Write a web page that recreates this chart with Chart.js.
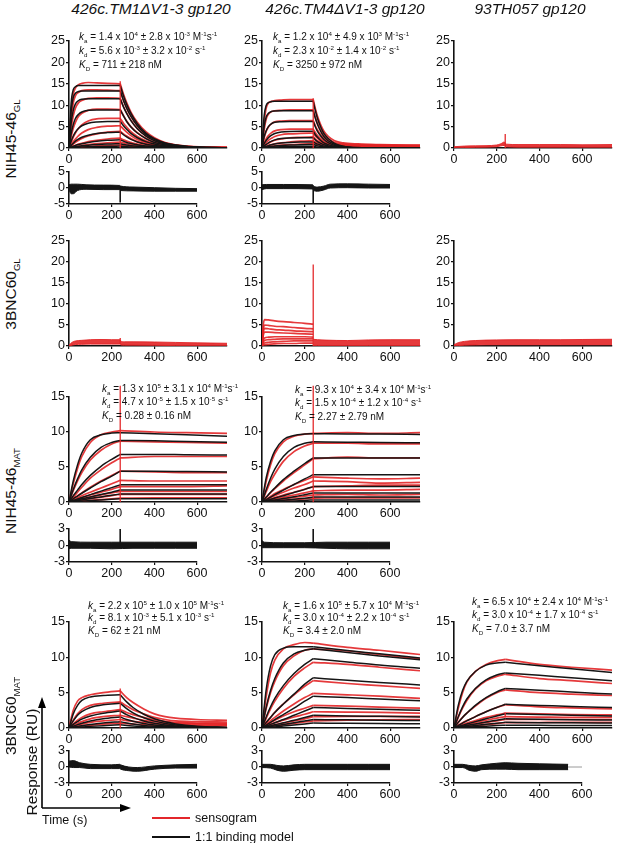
<!DOCTYPE html>
<html>
<head>
<meta charset="utf-8">
<script src="https://cdn.jsdelivr.net/npm/chart.js@4.4.1/dist/chart.umd.min.js"></script>
<style>
  body { margin: 0; background: #fff; }
  #fig { position: relative; width: 617px; height: 843px; overflow: hidden; font-family: "Liberation Sans", Arial, sans-serif; color: #111; }
  #fig canvas { position: absolute; }
  .t { position: absolute; white-space: nowrap; line-height: 1; }
  .title { font-style: italic; font-size: 15.5px; transform: translate(-50%, -50%); }
  .kin { font-size: 10px; transform: translateY(-50%); }
  .kin sup, .kin sub, .rot sub { font-size: 62%; line-height: 0; }
  .rot { font-size: 15.5px; transform: translate(-50%, -50%) rotate(-90deg); }
  .leg { font-size: 12.5px; transform: translateY(-50%); }
</style>
</head>
<body>
<div id="fig">
  <svg width="617" height="843" style="position:absolute;left:0;top:0">
    <line x1="42" y1="808" x2="42" y2="706" stroke="#000" stroke-width="1.6"/>
    <polygon points="42,697 38,708 46,708" fill="#000"/>
    <line x1="42" y1="808" x2="121" y2="808" stroke="#000" stroke-width="1.6"/>
    <polygon points="131,808 120,804 120,812" fill="#000"/>
    <line x1="152" y1="818" x2="190" y2="818" stroke="#e3262b" stroke-width="2.2"/>
    <line x1="152" y1="837" x2="190" y2="837" stroke="#111" stroke-width="2.2"/>
  </svg>
</div>
<script>
// * Settings
const FONT = "'Liberation Sans', Arial, sans-serif";
const RED = "rgba(226, 35, 38, 0.9)";
const BLACK = "#151515";
const PX_PER_S = 0.214;
const PAD_L = 26, PAD_T = 14, PAD_R = 16, PAD_B = 18;
const fig = document.getElementById("fig");

// * Tick labels
const timeTicks = [0, 200, 400, 600];
const glTicks = [0, 5, 10, 15, 20, 25];
const matTicks = [0, 5, 10, 15];
const resGlTicks = [-5, 0, 5];
const resMatTicks = [-3, 0, 3];

// * NIH45-46 GL x 426c.TM1dV1-3
const glTm1T = [0, 10, 20, 30, 45, 60, 90, 130, 180, 240, 255, 270, 290, 320, 360, 400, 450, 500, 560, 740];
const glTm1Fit = [
  [0, 10.5, 13.6, 14.3, 14.6, 14.6, 14.6, 14.6, 14.6, 14.6, 12.2, 10.2, 8.1, 5.7, 3.5, 2.2, 1.2, 0.68, 0.33, 0.05],
  [0, 8.5, 11.8, 12.8, 13.2, 13.3, 13.3, 13.3, 13.3, 13.3, 11.1, 9.3, 7.4, 5.2, 3.2, 2.0, 1.1, 0.62, 0.3, 0.04],
  [0, 5.8, 8.8, 10.3, 11.1, 11.4, 11.5, 11.5, 11.5, 11.5, 9.6, 8.1, 6.4, 4.5, 2.8, 1.7, 0.97, 0.54, 0.26, 0.03],
  [0, 3.3, 5.5, 6.9, 7.9, 8.4, 8.8, 8.9, 8.9, 8.9, 7.5, 6.2, 4.9, 3.5, 2.2, 1.3, 0.75, 0.41, 0.2, 0.03],
  [0, 1.6, 2.8, 3.7, 4.6, 5.2, 5.8, 6.1, 6.2, 6.2, 5.2, 4.4, 3.4, 2.4, 1.5, 0.94, 0.52, 0.29, 0.14, 0.02],
  [0, 0.6, 1.1, 1.6, 2.1, 2.5, 3.0, 3.4, 3.6, 3.7, 3.1, 2.6, 2.0, 1.4, 0.9, 0.56, 0.31, 0.17, 0.09, 0.01],
  [0, 0.2, 0.4, 0.6, 0.8, 1.0, 1.3, 1.6, 1.8, 1.9, 1.6, 1.3, 1.05, 0.74, 0.46, 0.29, 0.16, 0.09, 0.04, 0],
  [0, 0.1, 0.2, 0.3, 0.4, 0.5, 0.65, 0.8, 0.92, 1.0, 0.84, 0.7, 0.55, 0.39, 0.24, 0.15, 0.08, 0.05, 0.02, 0],
  [0, 0.05, 0.1, 0.14, 0.2, 0.24, 0.3, 0.36, 0.41, 0.45, 0.38, 0.32, 0.25, 0.18, 0.11, 0.07, 0.04, 0.02, 0.01, 0]
];
const glTm1Sens = [
  [0, 8.0, 12.5, 14.0, 14.8, 15.1, 15.3, 15.2, 15.1, 15.0, 12.6, 10.6, 8.4, 6.0, 3.8, 2.4, 1.3, 0.75, 0.4, 0.15],
  [0, 6.5, 10.5, 12.2, 13.0, 13.4, 13.6, 13.6, 13.5, 13.4, 11.2, 9.4, 7.5, 5.3, 3.3, 2.1, 1.15, 0.65, 0.35, 0.12],
  [0, 4.5, 7.5, 9.3, 10.6, 11.1, 11.6, 11.7, 11.7, 11.6, 9.7, 8.2, 6.5, 4.6, 2.9, 1.8, 1.0, 0.57, 0.3, 0.1],
  [0, 2.6, 4.6, 6.0, 7.4, 8.1, 8.8, 9.1, 9.1, 9.0, 7.6, 6.3, 5.0, 3.6, 2.3, 1.4, 0.8, 0.45, 0.25, 0.1],
  [0, 1.4, 2.5, 3.5, 4.6, 5.4, 6.3, 6.8, 6.9, 6.9, 5.8, 4.9, 3.8, 2.7, 1.7, 1.05, 0.6, 0.35, 0.2, 0.1],
  [0, 0.8, 1.5, 2.1, 2.9, 3.5, 4.3, 4.8, 5.1, 5.2, 4.4, 3.7, 2.9, 2.0, 1.3, 0.8, 0.45, 0.27, 0.15, 0.08],
  [0, 0.5, 0.9, 1.3, 1.8, 2.2, 2.8, 3.3, 3.7, 3.9, 3.3, 2.8, 2.2, 1.5, 0.95, 0.6, 0.35, 0.2, 0.12, 0.05],
  [0, 0.2, 0.4, 0.6, 0.9, 1.1, 1.5, 1.8, 2.1, 2.3, 1.9, 1.6, 1.3, 0.9, 0.56, 0.36, 0.2, 0.12, 0.08, 0.05],
  [0, 0.1, 0.2, 0.3, 0.45, 0.6, 0.8, 1.0, 1.2, 1.4, 1.2, 1.0, 0.8, 0.55, 0.35, 0.22, 0.13, 0.08, 0.05, 0.03],
  [0, 0.05, 0.1, 0.15, 0.2, 0.28, 0.38, 0.5, 0.6, 0.7, 0.6, 0.5, 0.4, 0.28, 0.18, 0.11, 0.07, 0.04, 0.03, 0.02]
];
const glTm1Spike = [0, 15.6];
const glTm1ResT = [0, 10, 20, 40, 80, 160, 238, 242, 300, 400, 500, 600];
const glTm1ResHi = [1.0, 1.2, 1.2, 1.2, 1.0, 0.9, 0.8, 0.6, 0.3, 0.1, -0.1, -0.2];
const glTm1ResLo = [-0.5, -1.8, -1.8, -0.8, -0.4, -0.5, -0.5, -0.8, -0.9, -1.0, -1.0, -1.0];
const glTm1ResSpike = [0, -4.5];

// * NIH45-46 GL x 426c.TM4dV1-3
const glTm4T = [0, 10, 20, 30, 45, 60, 90, 130, 180, 240, 250, 260, 275, 290, 310, 340, 380, 450, 550, 740];
const glTm4Fit = [
  [0, 7.5, 10.0, 10.6, 10.85, 10.9, 10.9, 10.9, 10.9, 10.9, 8.7, 6.9, 4.9, 3.4, 2.2, 1.1, 0.43, 0.09, 0.01, 0],
  [0, 5.0, 7.3, 8.1, 8.55, 8.65, 8.7, 8.7, 8.7, 8.7, 6.9, 5.5, 3.9, 2.7, 1.7, 0.87, 0.34, 0.07, 0.01, 0],
  [0, 2.6, 4.1, 5.0, 5.7, 6.0, 6.15, 6.2, 6.2, 6.2, 4.9, 3.9, 2.8, 2.0, 1.25, 0.62, 0.25, 0.05, 0.01, 0],
  [0, 1.0, 1.8, 2.4, 3.0, 3.4, 3.75, 3.88, 3.9, 3.9, 3.1, 2.5, 1.75, 1.2, 0.78, 0.39, 0.15, 0.03, 0, 0],
  [0, 0.45, 0.85, 1.2, 1.6, 1.9, 2.2, 2.35, 2.4, 2.4, 1.9, 1.5, 1.08, 0.75, 0.48, 0.24, 0.1, 0.02, 0, 0],
  [0, 0.2, 0.38, 0.55, 0.78, 0.95, 1.15, 1.3, 1.38, 1.4, 1.1, 0.9, 0.63, 0.44, 0.28, 0.14, 0.06, 0.01, 0, 0],
  [0, 0.1, 0.18, 0.27, 0.38, 0.48, 0.6, 0.7, 0.77, 0.8, 0.64, 0.5, 0.36, 0.25, 0.16, 0.08, 0.03, 0, 0, 0],
  [0, 0.04, 0.08, 0.12, 0.17, 0.22, 0.28, 0.34, 0.38, 0.4, 0.32, 0.25, 0.18, 0.12, 0.08, 0.04, 0.02, 0, 0, 0]
];
const glTm4Sens = [
  [0, 6.0, 9.4, 10.5, 10.9, 11.1, 11.2, 11.3, 11.3, 11.3, 9.2, 7.4, 5.4, 3.9, 2.7, 1.7, 1.2, 0.95, 0.8, 0.65],
  [0, 4.2, 6.8, 7.9, 8.5, 8.7, 8.8, 8.9, 8.9, 8.9, 7.2, 5.8, 4.2, 3.1, 2.1, 1.3, 0.95, 0.8, 0.7, 0.6],
  [0, 2.3, 3.9, 4.9, 5.7, 6.1, 6.3, 6.4, 6.4, 6.4, 5.2, 4.2, 3.1, 2.3, 1.6, 1.0, 0.8, 0.65, 0.6, 0.5],
  [0, 1.2, 2.2, 2.9, 3.6, 4.0, 4.3, 4.4, 4.4, 4.4, 3.6, 2.9, 2.2, 1.6, 1.15, 0.8, 0.6, 0.5, 0.45, 0.45],
  [0, 0.7, 1.3, 1.8, 2.3, 2.7, 3.1, 3.3, 3.4, 3.5, 2.8, 2.3, 1.7, 1.3, 0.95, 0.65, 0.5, 0.45, 0.4, 0.4],
  [0, 0.4, 0.8, 1.1, 1.5, 1.8, 2.1, 2.4, 2.5, 2.6, 2.1, 1.7, 1.3, 1.0, 0.75, 0.55, 0.45, 0.4, 0.35, 0.35],
  [0, 0.2, 0.4, 0.6, 0.8, 1.0, 1.2, 1.4, 1.6, 1.7, 1.4, 1.2, 0.9, 0.7, 0.55, 0.42, 0.35, 0.3, 0.3, 0.3],
  [0, 0.1, 0.2, 0.3, 0.4, 0.5, 0.65, 0.8, 0.9, 1.0, 0.85, 0.7, 0.55, 0.45, 0.35, 0.3, 0.25, 0.2, 0.2, 0.2]
];
const glTm4Spike = [0, 11.6];
const glTm4ResT = [0, 20, 100, 238, 242, 260, 290, 320, 400, 500, 600];
const glTm4ResHi = [1.0, 1.1, 1.1, 1.0, 0.6, 0.3, 0.6, 1.2, 1.3, 1.2, 1.1];
const glTm4ResLo = [-0.5, -0.2, -0.2, -0.3, -0.8, -1.0, -0.6, 0.0, 0.1, 0.0, 0.0];
const glTm4ResSpike = [0, -5];

// * NIH45-46 GL x 93TH057
const gl93T = [0, 50, 100, 150, 200, 220, 235, 245, 300, 400, 500, 600, 740];
const gl93Hi = [0.3, 0.45, 0.5, 0.55, 0.7, 1.0, 1.4, 0.9, 0.8, 0.8, 0.8, 0.75, 0.8];
const gl93Lo = [0, 0.1, 0.15, 0.2, 0.3, 0.5, 0.6, 0.3, 0.2, 0.2, 0.2, 0.2, 0.2];
const gl93Spike = [0, 3.3];

// * 3BNC60 GL x 426c.TM1dV1-3
const bgTm1T = [0, 15, 30, 60, 100, 150, 200, 238, 242, 260, 300, 400, 500, 600, 740];
const bgTm1Hi = [0.2, 0.9, 1.2, 1.35, 1.5, 1.55, 1.5, 1.5, 1.2, 1.0, 1.0, 0.95, 0.85, 0.75, 0.65];
const bgTm1Lo = [0, 0.2, 0.35, 0.4, 0.45, 0.45, 0.45, 0.45, 0.25, 0.2, 0.2, 0.15, 0.1, 0.1, 0.05];
const bgTm1Spike = [0.5, 1.9];

// * 3BNC60 GL x 426c.TM4dV1-3
const bgTm4T = [0, 5, 12, 30, 60, 100, 150, 200, 240];
const bgTm4Sens = [
  [0, 4.5, 6.3, 6.2, 6.0, 5.8, 5.6, 5.4, 5.2],
  [0, 3.5, 5.0, 4.9, 4.7, 4.6, 4.4, 4.2, 4.1],
  [0, 2.8, 4.2, 4.1, 3.9, 3.8, 3.6, 3.5, 3.4],
  [0, 2.2, 3.3, 3.3, 3.2, 3.1, 3.0, 2.9, 2.8],
  [0, 1.2, 1.9, 2.1, 2.2, 2.2, 2.2, 2.2, 2.1],
  [0, 0.8, 1.3, 1.5, 1.6, 1.7, 1.7, 1.7, 1.7],
  [0, 0.4, 0.7, 0.9, 1.0, 1.1, 1.2, 1.2, 1.2],
  [0, 0.2, 0.3, 0.4, 0.5, 0.6, 0.6, 0.7, 0.7]
];
const bgTm4TailT = [240, 260, 300, 400, 500, 600, 740];
const bgTm4TailHi = [1.6, 1.5, 1.4, 1.3, 1.45, 1.5, 1.5];
const bgTm4TailLo = [0.1, 0.1, 0.1, 0.1, 0.1, 0.1, 0.1];
const bgTm4Spike = [0, 19.4];

// * 3BNC60 GL x 93TH057
const bg93T = [0, 20, 50, 100, 150, 200, 300, 400, 500, 600, 740];
const bg93Hi = [0.3, 0.8, 1.1, 1.3, 1.4, 1.45, 1.5, 1.5, 1.5, 1.55, 1.6];
const bg93Lo = [0, 0.1, 0.2, 0.25, 0.3, 0.3, 0.3, 0.3, 0.3, 0.3, 0.3];

// * NIH45-46 MAT x 426c.TM1dV1-3
const matTm1T = [0, 20, 40, 60, 100, 150, 200, 240, 400, 550, 740];
const matTm1Fit = [
  [0, 3.0, 5.3, 7.0, 8.9, 9.6, 9.85, 9.9, 9.75, 9.6, 9.4],
  [0, 1.8, 3.3, 4.6, 6.4, 7.8, 8.5, 8.8, 8.75, 8.65, 8.55],
  [0, 0.9, 1.7, 2.5, 3.8, 5.1, 6.1, 6.8, 6.8, 6.75, 6.7],
  [0, 0.45, 0.85, 1.25, 2.0, 2.9, 3.7, 4.4, 4.4, 4.35, 4.3],
  [0, 0.22, 0.43, 0.64, 1.05, 1.55, 2.05, 2.45, 2.45, 2.45, 2.45],
  [0, 0.15, 0.3, 0.45, 0.72, 1.07, 1.4, 1.7, 1.7, 1.7, 1.7],
  [0, 0.1, 0.2, 0.3, 0.5, 0.73, 0.97, 1.15, 1.15, 1.15, 1.15],
  [0, 0.04, 0.08, 0.12, 0.2, 0.3, 0.4, 0.48, 0.48, 0.48, 0.48]
];
const matTm1Sens = [
  [0, 2.6, 4.8, 6.5, 8.5, 9.6, 10.0, 10.2, 10.0, 9.9, 9.8],
  [0, 1.6, 3.0, 4.2, 6.0, 7.4, 8.3, 8.7, 8.6, 8.5, 8.4],
  [0, 0.7, 1.4, 2.1, 3.4, 4.6, 5.6, 6.3, 6.5, 6.5, 6.5],
  [0, 0.5, 0.9, 1.3, 2.1, 3.0, 3.8, 4.4, 4.3, 4.2, 4.2],
  [0, 0.3, 0.6, 0.9, 1.4, 2.0, 2.6, 3.1, 3.0, 3.0, 3.0],
  [0, 0.2, 0.4, 0.6, 1.0, 1.4, 1.8, 2.2, 2.2, 2.2, 2.3],
  [0, 0.15, 0.3, 0.45, 0.7, 1.0, 1.3, 1.5, 1.5, 1.5, 1.5],
  [0, 0.1, 0.2, 0.3, 0.5, 0.7, 0.9, 1.1, 1.1, 1.1, 1.1],
  [0, 0.05, 0.1, 0.15, 0.25, 0.35, 0.45, 0.55, 0.6, 0.6, 0.6]
];
const matTm1Spike = [0, 16.6];
const matTm1ResT = [0, 10, 100, 200, 300, 400, 500, 600];
const matTm1ResHi = [1.0, 0.7, 0.6, 0.6, 0.6, 0.6, 0.6, 0.6];
const matTm1ResLo = [-0.6, -0.5, -0.5, -0.6, -0.5, -0.5, -0.5, -0.5];
const matTm1ResSpike = [0, 3.0];

// * NIH45-46 MAT x 426c.TM4dV1-3
const matTm4T = [0, 20, 40, 60, 100, 150, 200, 240, 400, 550, 740];
const matTm4Fit = [
  [0, 3.5, 5.8, 7.3, 8.9, 9.5, 9.7, 9.75, 9.72, 9.7, 9.65],
  [0, 1.8, 3.4, 4.7, 6.5, 7.8, 8.4, 8.6, 8.55, 8.5, 8.45],
  [0, 0.7, 1.4, 2.0, 3.2, 4.4, 5.5, 6.3, 6.3, 6.3, 6.3],
  [0, 0.35, 0.7, 1.05, 1.7, 2.5, 3.3, 3.9, 3.9, 3.9, 3.9],
  [0, 0.2, 0.38, 0.56, 0.9, 1.35, 1.8, 2.2, 2.2, 2.2, 2.2],
  [0, 0.1, 0.2, 0.3, 0.5, 0.75, 1.05, 1.3, 1.3, 1.3, 1.3],
  [0, 0.05, 0.1, 0.15, 0.26, 0.4, 0.55, 0.7, 0.7, 0.7, 0.7],
  [0, 0.02, 0.04, 0.06, 0.1, 0.16, 0.23, 0.3, 0.3, 0.3, 0.3]
];
const matTm4Sens = [
  [0, 3.0, 5.3, 6.9, 8.6, 9.4, 9.7, 9.8, 9.9, 9.8, 9.9],
  [0, 1.5, 2.9, 4.0, 5.8, 7.2, 8.0, 8.4, 8.4, 8.3, 8.3],
  [0, 0.7, 1.3, 1.9, 3.0, 4.2, 5.3, 6.2, 6.4, 6.3, 6.3],
  [0, 0.4, 0.8, 1.2, 1.8, 2.5, 3.1, 3.6, 3.4, 3.3, 3.4],
  [0, 0.3, 0.6, 0.9, 1.4, 2.0, 2.5, 3.0, 2.9, 2.7, 2.8],
  [0, 0.2, 0.4, 0.6, 1.0, 1.4, 1.8, 2.2, 2.3, 2.4, 2.4],
  [0, 0.15, 0.3, 0.45, 0.7, 1.0, 1.3, 1.6, 1.7, 1.7, 1.8],
  [0, 0.1, 0.2, 0.3, 0.45, 0.65, 0.85, 1.0, 1.1, 1.0, 1.1],
  [0, 0.05, 0.1, 0.15, 0.25, 0.35, 0.45, 0.55, 0.6, 0.6, 0.6]
];
const matTm4Spike = [0, 16.6];
const matTm4ResT = [0, 10, 100, 200, 300, 400, 500, 600];
const matTm4ResHi = [0.9, 0.6, 0.5, 0.5, 0.6, 0.6, 0.6, 0.6];
const matTm4ResLo = [-0.4, -0.4, -0.4, -0.4, -0.5, -0.6, -0.6, -0.6];
const matTm4ResSpike = [0, 3.0];

// * 3BNC60 MAT x 426c.TM1dV1-3
const bmTm1T = [0, 20, 40, 60, 100, 160, 240, 270, 300, 350, 400, 450, 500, 600, 740];
const bmTm1Fit = [
  [0, 2.0, 3.2, 3.9, 4.4, 4.6, 4.7, 3.7, 2.9, 1.95, 1.3, 0.87, 0.58, 0.26, 0.08],
  [0, 1.0, 1.8, 2.3, 2.9, 3.3, 3.5, 2.75, 2.15, 1.45, 0.97, 0.65, 0.43, 0.19, 0.06],
  [0, 0.5, 0.9, 1.25, 1.7, 2.1, 2.4, 1.9, 1.5, 1.0, 0.66, 0.44, 0.3, 0.13, 0.04],
  [0, 0.25, 0.48, 0.67, 0.98, 1.3, 1.55, 1.2, 0.95, 0.64, 0.43, 0.29, 0.19, 0.08, 0.03],
  [0, 0.12, 0.23, 0.33, 0.5, 0.7, 0.9, 0.7, 0.55, 0.37, 0.25, 0.17, 0.11, 0.05, 0.02],
  [0, 0.05, 0.1, 0.15, 0.23, 0.33, 0.45, 0.35, 0.28, 0.19, 0.12, 0.08, 0.05, 0.02, 0.01]
];
const bmTm1Sens = [
  [0, 2.5, 3.8, 4.3, 4.7, 5.0, 5.25, 4.3, 3.6, 2.7, 2.0, 1.6, 1.4, 1.2, 1.1],
  [0, 1.1, 2.0, 2.6, 3.2, 3.5, 3.7, 3.1, 2.6, 2.0, 1.5, 1.2, 1.0, 0.9, 0.85],
  [0, 0.6, 1.1, 1.5, 2.0, 2.3, 2.6, 2.2, 1.9, 1.5, 1.15, 0.95, 0.8, 0.7, 0.7],
  [0, 0.35, 0.65, 0.9, 1.3, 1.6, 1.8, 1.6, 1.4, 1.1, 0.9, 0.75, 0.65, 0.6, 0.55],
  [0, 0.2, 0.4, 0.55, 0.8, 1.0, 1.2, 1.05, 0.95, 0.8, 0.65, 0.55, 0.5, 0.45, 0.45],
  [0, 0.1, 0.2, 0.3, 0.4, 0.55, 0.7, 0.62, 0.55, 0.45, 0.4, 0.35, 0.3, 0.3, 0.3]
];
const bmTm1Spike = [0, 5.6];
const bmTm1ResT = [0, 20, 50, 100, 200, 238, 242, 280, 320, 400, 500, 600];
const bmTm1ResHi = [1.1, 1.2, 0.8, 0.5, 0.4, 0.5, 0.4, 0.0, -0.1, 0.2, 0.4, 0.5];
const bmTm1ResLo = [0.0, -0.1, -0.1, -0.3, -0.3, -0.3, -0.4, -0.7, -0.8, -0.4, -0.2, -0.2];

// * 3BNC60 MAT x 426c.TM4dV1-3
const bmTm4T = [0, 20, 40, 60, 100, 150, 200, 240, 400, 550, 740];
const bmTm4Fit = [
  [0, 5.5, 8.8, 10.4, 11.3, 11.5, 11.5, 11.5, 10.95, 10.5, 9.9],
  [0, 3.0, 5.3, 7.0, 9.2, 10.5, 11.0, 11.2, 10.7, 10.2, 9.65],
  [0, 1.6, 3.0, 4.2, 6.0, 7.7, 9.0, 9.8, 9.35, 8.9, 8.45],
  [0, 0.8, 1.5, 2.2, 3.4, 4.8, 6.2, 7.1, 6.75, 6.45, 6.1],
  [0, 0.4, 0.8, 1.2, 1.9, 2.8, 3.8, 4.5, 4.3, 4.1, 3.85],
  [0, 0.25, 0.5, 0.75, 1.2, 1.8, 2.4, 2.9, 2.75, 2.65, 2.5],
  [0, 0.15, 0.3, 0.45, 0.75, 1.1, 1.5, 1.8, 1.7, 1.65, 1.55],
  [0, 0.1, 0.2, 0.3, 0.5, 0.75, 1.0, 1.2, 1.15, 1.1, 1.05],
  [0, 0.05, 0.1, 0.15, 0.28, 0.42, 0.57, 0.7, 0.67, 0.64, 0.6]
];
const bmTm4Sens = [
  [0, 4.5, 7.8, 9.6, 11.2, 11.8, 12.1, 12.0, 11.4, 11.0, 10.4],
  [0, 2.8, 5.0, 6.6, 8.8, 10.2, 11.0, 11.2, 10.9, 10.4, 9.8],
  [0, 1.4, 2.7, 3.8, 5.6, 7.3, 8.5, 9.3, 9.0, 8.6, 8.1],
  [0, 0.8, 1.5, 2.2, 3.4, 4.7, 5.9, 6.7, 6.3, 6.0, 5.6],
  [0, 0.55, 1.05, 1.5, 2.4, 3.4, 4.3, 4.9, 4.7, 4.5, 4.2],
  [0, 0.4, 0.75, 1.1, 1.7, 2.3, 2.8, 3.2, 3.1, 2.95, 2.8],
  [0, 0.25, 0.5, 0.75, 1.1, 1.55, 1.95, 2.3, 2.25, 2.2, 2.1],
  [0, 0.15, 0.3, 0.45, 0.7, 1.0, 1.3, 1.6, 1.65, 1.65, 1.65],
  [0, 0.1, 0.2, 0.3, 0.45, 0.65, 0.85, 1.0, 1.1, 1.15, 1.2]
];
const bmTm4ResT = [0, 40, 70, 100, 150, 200, 300, 400, 500, 600];
const bmTm4ResHi = [0.5, 0.5, 0.3, 0.2, 0.4, 0.5, 0.5, 0.5, 0.5, 0.5];
const bmTm4ResLo = [-0.1, -0.2, -0.6, -0.8, -0.6, -0.5, -0.5, -0.5, -0.5, -0.5];

// * 3BNC60 MAT x 93TH057
const bm93T = [0, 20, 40, 60, 100, 150, 200, 240, 400, 550, 740];
const bm93Fit = [
  [0, 3.2, 5.3, 6.6, 8.0, 8.9, 9.2, 9.3, 8.8, 8.4, 7.85],
  [0, 1.6, 3.0, 4.1, 5.6, 6.8, 7.5, 7.8, 7.45, 7.1, 6.7],
  [0, 0.8, 1.5, 2.1, 3.2, 4.3, 5.1, 5.6, 5.35, 5.1, 4.8],
  [0, 0.35, 0.7, 1.0, 1.6, 2.3, 2.9, 3.35, 3.2, 3.05, 2.9],
  [0, 0.2, 0.38, 0.56, 0.9, 1.3, 1.7, 2.0, 1.9, 1.8, 1.7],
  [0, 0.12, 0.24, 0.36, 0.58, 0.85, 1.1, 1.3, 1.24, 1.18, 1.12],
  [0, 0.07, 0.14, 0.21, 0.35, 0.52, 0.68, 0.8, 0.76, 0.73, 0.69],
  [0, 0.04, 0.07, 0.11, 0.18, 0.26, 0.34, 0.4, 0.38, 0.36, 0.34]
];
const bm93Sens = [
  [0, 2.8, 5.0, 6.5, 8.0, 9.0, 9.5, 9.7, 9.0, 8.6, 8.2],
  [0, 1.5, 2.8, 3.9, 5.5, 6.7, 7.3, 7.6, 7.0, 6.7, 6.3],
  [0, 0.8, 1.5, 2.1, 3.1, 4.2, 5.0, 5.4, 5.0, 4.8, 4.6],
  [0, 0.4, 0.75, 1.05, 1.6, 2.3, 2.9, 3.3, 3.0, 2.85, 2.7],
  [0, 0.25, 0.5, 0.7, 1.05, 1.5, 1.85, 2.1, 2.0, 1.9, 1.85],
  [0, 0.18, 0.35, 0.5, 0.8, 1.1, 1.4, 1.6, 1.55, 1.5, 1.5],
  [0, 0.12, 0.24, 0.36, 0.55, 0.8, 1.0, 1.2, 1.2, 1.2, 1.2],
  [0, 0.07, 0.14, 0.2, 0.32, 0.47, 0.62, 0.75, 0.78, 0.8, 0.8]
];
const bm93Spike = [1.5, 2.2];
const bm93ResT = [0, 40, 70, 100, 130, 200, 240, 300, 400, 535];
const bm93ResHi = [0.5, 0.5, 0.3, 0.2, 0.4, 0.7, 0.8, 0.7, 0.6, 0.5];
const bm93ResLo = [-0.1, -0.1, -0.6, -0.8, -0.5, -0.4, -0.4, -0.5, -0.5, -0.5];
const bm93ResBaseT = [0, 600];
const bm93ResBase = [0, 0];

// * Helpers
function pts(t, ys) {
  return t.map((x, i) => ({ x: x, y: ys[i] }));
}

function curveSets(t, ys, color, width, order) {
  // split at end of injection so the kink at 240 s stays sharp
  const all = pts(t, ys);
  const k = t.indexOf(240);
  const parts = k > 0 && k < t.length - 1 ? [all.slice(0, k + 1), all.slice(k)] : [all];
  return parts.map((p) => ({
    data: p,
    borderColor: color,
    borderWidth: width,
    cubicInterpolationMode: "monotone",
    fill: false,
    order: order,
  }));
}

function bandSets(t, lo, hi, color, order) {
  return [
    { data: pts(t, lo), borderColor: color, borderWidth: 1, cubicInterpolationMode: "monotone", fill: false, order: order },
    { data: pts(t, hi), borderColor: color, borderWidth: 1, cubicInterpolationMode: "monotone", fill: "-1", backgroundColor: color, order: order },
  ];
}

function spikeSet(ys, color, width) {
  return { data: pts([240, 240], ys), borderColor: color, borderWidth: width, clip: false, order: 0 };
}

function sensorgram(t, fits, sens) {
  let sets = [];
  sens.forEach((ys) => (sets = sets.concat(curveSets(t, ys, RED, 1.7, 3))));
  fits.forEach((ys) => (sets = sets.concat(curveSets(t, ys, BLACK, 1.5, 2))));
  return sets;
}

function axisTicks(values) {
  return (scale) => {
    scale.ticks = values.map((v) => ({ value: v }));
  };
}

function addPanel(x0, yTop, yBottom, xMax, yTicks, datasets) {
  const w = Math.round(xMax * PX_PER_S);
  const h = yBottom - yTop;
  const canvas = document.createElement("canvas");
  canvas.width = PAD_L + w + PAD_R;
  canvas.height = PAD_T + h + PAD_B;
  canvas.style.left = x0 - PAD_L + "px";
  canvas.style.top = yTop - PAD_T + "px";
  fig.appendChild(canvas);

  const tickFont = { family: FONT, size: 12.5 };
  new Chart(canvas, {
    type: "line",
    data: { datasets: datasets },
    options: {
      responsive: false,
      animation: false,
      events: [],
      layout: { padding: { top: PAD_T, right: PAD_R, left: 0, bottom: 0 } },
      elements: { point: { radius: 0 } },
      plugins: { legend: { display: false }, tooltip: { enabled: false } },
      scales: {
        x: {
          type: "linear",
          min: 0,
          max: xMax,
          afterBuildTicks: axisTicks(timeTicks),
          afterFit: (s) => {
            s.height = PAD_B;
            s.paddingLeft = s.paddingRight = s.paddingTop = s.paddingBottom = 0;
          },
          ticks: { color: "#111", font: tickFont, padding: 1, maxRotation: 0, autoSkip: false },
          grid: { drawOnChartArea: false, drawTicks: true, tickLength: 3, color: "#111", lineWidth: 1.2 },
          border: { color: "#111", width: 1.6 },
        },
        y: {
          type: "linear",
          min: yTicks[0],
          max: yTicks[yTicks.length - 1],
          afterBuildTicks: axisTicks(yTicks),
          afterFit: (s) => {
            s.width = PAD_L;
            s.paddingLeft = s.paddingRight = s.paddingTop = s.paddingBottom = 0;
          },
          ticks: { color: "#111", font: tickFont, padding: 1, autoSkip: false },
          grid: { drawOnChartArea: false, drawTicks: true, tickLength: 3, color: "#111", lineWidth: 1.2 },
          border: { color: "#111", width: 1.6 },
        },
      },
    },
  });
}

function addText(html, x, y, cls) {
  const d = document.createElement("div");
  d.className = "t " + cls;
  d.innerHTML = html;
  d.style.left = x + "px";
  d.style.top = y + "px";
  fig.appendChild(d);
}

function addKinetics(x, y, lines) {
  lines.forEach((l, i) => addText(l, x, y[i], "kin"));
}

// * Layout (page pixels)
const COL = [69, 262, 454];
const MAIN_MAX = 740, RES_MAX = 600;

// Row 1: NIH45-46 GL
addPanel(COL[0], 41, 148, MAIN_MAX, glTicks,
  sensorgram(glTm1T, glTm1Fit, glTm1Sens).concat([spikeSet(glTm1Spike, RED, 1.4)]));
addPanel(COL[0], 172, 204, RES_MAX, resGlTicks,
  bandSets(glTm1ResT, glTm1ResLo, glTm1ResHi, BLACK, 2).concat([spikeSet(glTm1ResSpike, BLACK, 1.6)]));
addPanel(COL[1], 41, 148, MAIN_MAX, glTicks,
  sensorgram(glTm4T, glTm4Fit, glTm4Sens).concat([spikeSet(glTm4Spike, RED, 1.4)]));
addPanel(COL[1], 172, 204, RES_MAX, resGlTicks,
  bandSets(glTm4ResT, glTm4ResLo, glTm4ResHi, BLACK, 2).concat([spikeSet(glTm4ResSpike, BLACK, 1.6)]));
addPanel(COL[2], 41, 148, MAIN_MAX, glTicks,
  bandSets(gl93T, gl93Lo, gl93Hi, RED, 2).concat([spikeSet(gl93Spike, RED, 1.4)]));

// Row 2: 3BNC60 GL
addPanel(COL[0], 241, 346, MAIN_MAX, glTicks,
  bandSets(bgTm1T, bgTm1Lo, bgTm1Hi, RED, 2).concat([spikeSet(bgTm1Spike, RED, 1.4)]));
let bgTm4Sets = [];
bgTm4Sens.forEach((ys) => (bgTm4Sets = bgTm4Sets.concat(curveSets(bgTm4T, ys, RED, 1.7, 3))));
addPanel(COL[1], 241, 346, MAIN_MAX, glTicks,
  bgTm4Sets.concat(bandSets(bgTm4TailT, bgTm4TailLo, bgTm4TailHi, RED, 2), [spikeSet(bgTm4Spike, RED, 1.4)]));
addPanel(COL[2], 241, 346, MAIN_MAX, glTicks, bandSets(bg93T, bg93Lo, bg93Hi, RED, 2));

// Row 3: NIH45-46 MAT
addPanel(COL[0], 397, 502, MAIN_MAX, matTicks,
  sensorgram(matTm1T, matTm1Fit, matTm1Sens).concat([spikeSet(matTm1Spike, RED, 1.4)]));
addPanel(COL[0], 529, 562, RES_MAX, resMatTicks,
  bandSets(matTm1ResT, matTm1ResLo, matTm1ResHi, BLACK, 2).concat([spikeSet(matTm1ResSpike, BLACK, 1.6)]));
addPanel(COL[1], 397, 502, MAIN_MAX, matTicks,
  sensorgram(matTm4T, matTm4Fit, matTm4Sens).concat([spikeSet(matTm4Spike, RED, 1.4)]));
addPanel(COL[1], 529, 562, RES_MAX, resMatTicks,
  bandSets(matTm4ResT, matTm4ResLo, matTm4ResHi, BLACK, 2).concat([spikeSet(matTm4ResSpike, BLACK, 1.6)]));

// Row 4: 3BNC60 MAT
addPanel(COL[0], 622, 728, MAIN_MAX, matTicks,
  sensorgram(bmTm1T, bmTm1Fit, bmTm1Sens).concat([spikeSet(bmTm1Spike, RED, 1.4)]));
addPanel(COL[0], 751, 783, RES_MAX, resMatTicks, bandSets(bmTm1ResT, bmTm1ResLo, bmTm1ResHi, BLACK, 2));
addPanel(COL[1], 622, 728, MAIN_MAX, matTicks, sensorgram(bmTm4T, bmTm4Fit, bmTm4Sens));
addPanel(COL[1], 751, 783, RES_MAX, resMatTicks, bandSets(bmTm4ResT, bmTm4ResLo, bmTm4ResHi, BLACK, 2));
addPanel(COL[2], 622, 728, MAIN_MAX, matTicks,
  sensorgram(bm93T, bm93Fit, bm93Sens).concat([spikeSet(bm93Spike, RED, 1.4)]));
addPanel(COL[2], 751, 783, RES_MAX, resMatTicks,
  [{ data: pts(bm93ResBaseT, bm93ResBase), borderColor: "#9a9a9a", borderWidth: 1, order: 4 }].concat(
    bandSets(bm93ResT, bm93ResLo, bm93ResHi, BLACK, 2)));

// * Text
addText("426c.TM1&Delta;V1-3 gp120", 151, 9, "title");
addText("426c.TM4&Delta;V1-3 gp120", 345, 9, "title");
addText("93TH057 gp120", 530, 9, "title");

addText("NIH45-46<sub>GL</sub>", 11, 139, "rot");
addText("3BNC60<sub>GL</sub>", 11, 294, "rot");
addText("NIH45-46<sub>MAT</sub>", 11, 491, "rot");
addText("3BNC60<sub>MAT</sub>", 11, 716, "rot");
addText("Response (RU)", 32, 762, "rot");
addText("Time (s)", 42, 820, "leg");
addText("sensogram", 195, 818, "leg");
addText("1:1 binding model", 195, 837, "leg");

const ka = "<i>k</i><sub>a</sub> = ", kd = "<i>k</i><sub>d</sub> = ", KD = "<i>K</i><sub>D</sub> = ";
addKinetics(79, [37, 51, 65], [
  ka + "1.4 x 10<sup>4</sup> &plusmn; 2.8 x 10<sup>-3</sup> M<sup>-1</sup>s<sup>-1</sup>",
  kd + "5.6 x 10<sup>-3</sup> &plusmn; 3.2 x 10<sup>-2</sup> s<sup>-1</sup>",
  KD + "711 &plusmn; 218 nM"]);
addKinetics(273, [37, 51, 65], [
  ka + "1.2 x 10<sup>4</sup> &plusmn; 4.9 x 10<sup>3</sup> M<sup>-1</sup>s<sup>-1</sup>",
  kd + "2.3 x 10<sup>-2</sup> &plusmn; 1.4 x 10<sup>-2</sup> s<sup>-1</sup>",
  KD + "3250 &plusmn; 972 nM"]);
addKinetics(102, [389, 402, 416], [
  ka + "1.3 x 10<sup>5</sup> &plusmn; 3.1 x 10<sup>4</sup> M<sup>-1</sup>s<sup>-1</sup>",
  kd + "4.7 x 10<sup>-5</sup> &plusmn; 1.5 x 10<sup>-5</sup> s<sup>-1</sup>",
  KD + "0.28 &plusmn; 0.16 nM"]);
addKinetics(295, [390, 403, 417], [
  ka + "9.3 x 10<sup>4</sup> &plusmn; 3.4 x 10<sup>4</sup> M<sup>-1</sup>s<sup>-1</sup>",
  kd + "1.5 x 10<sup>-4</sup> &plusmn; 1.2 x 10<sup>-4</sup> s<sup>-1</sup>",
  KD + "2.27 &plusmn; 2.79 nM"]);
addKinetics(88, [606, 618, 631], [
  ka + "2.2 x 10<sup>5</sup> &plusmn; 1.0 x 10<sup>5</sup> M<sup>-1</sup>s<sup>-1</sup>",
  kd + "8.1 x 10<sup>-3</sup> &plusmn; 5.1 x 10<sup>-3</sup> s<sup>-1</sup>",
  KD + "62 &plusmn; 21 nM"]);
addKinetics(283, [606, 618, 631], [
  ka + "1.6 x 10<sup>5</sup> &plusmn; 5.7 x 10<sup>4</sup> M<sup>-1</sup>s<sup>-1</sup>",
  kd + "3.0 x 10<sup>-4</sup> &plusmn; 2.2 x 10<sup>-4</sup> s<sup>-1</sup>",
  KD + "3.4 &plusmn; 2.0 nM"]);
addKinetics(472, [602, 615, 629], [
  ka + "6.5 x 10<sup>4</sup> &plusmn; 2.4 x 10<sup>4</sup> M<sup>-1</sup>s<sup>-1</sup>",
  kd + "3.0 x 10<sup>-4</sup> &plusmn; 1.7 x 10<sup>-4</sup> s<sup>-1</sup>",
  KD + "7.0 &plusmn; 3.7 nM"]);
</script>
</body>
</html>
